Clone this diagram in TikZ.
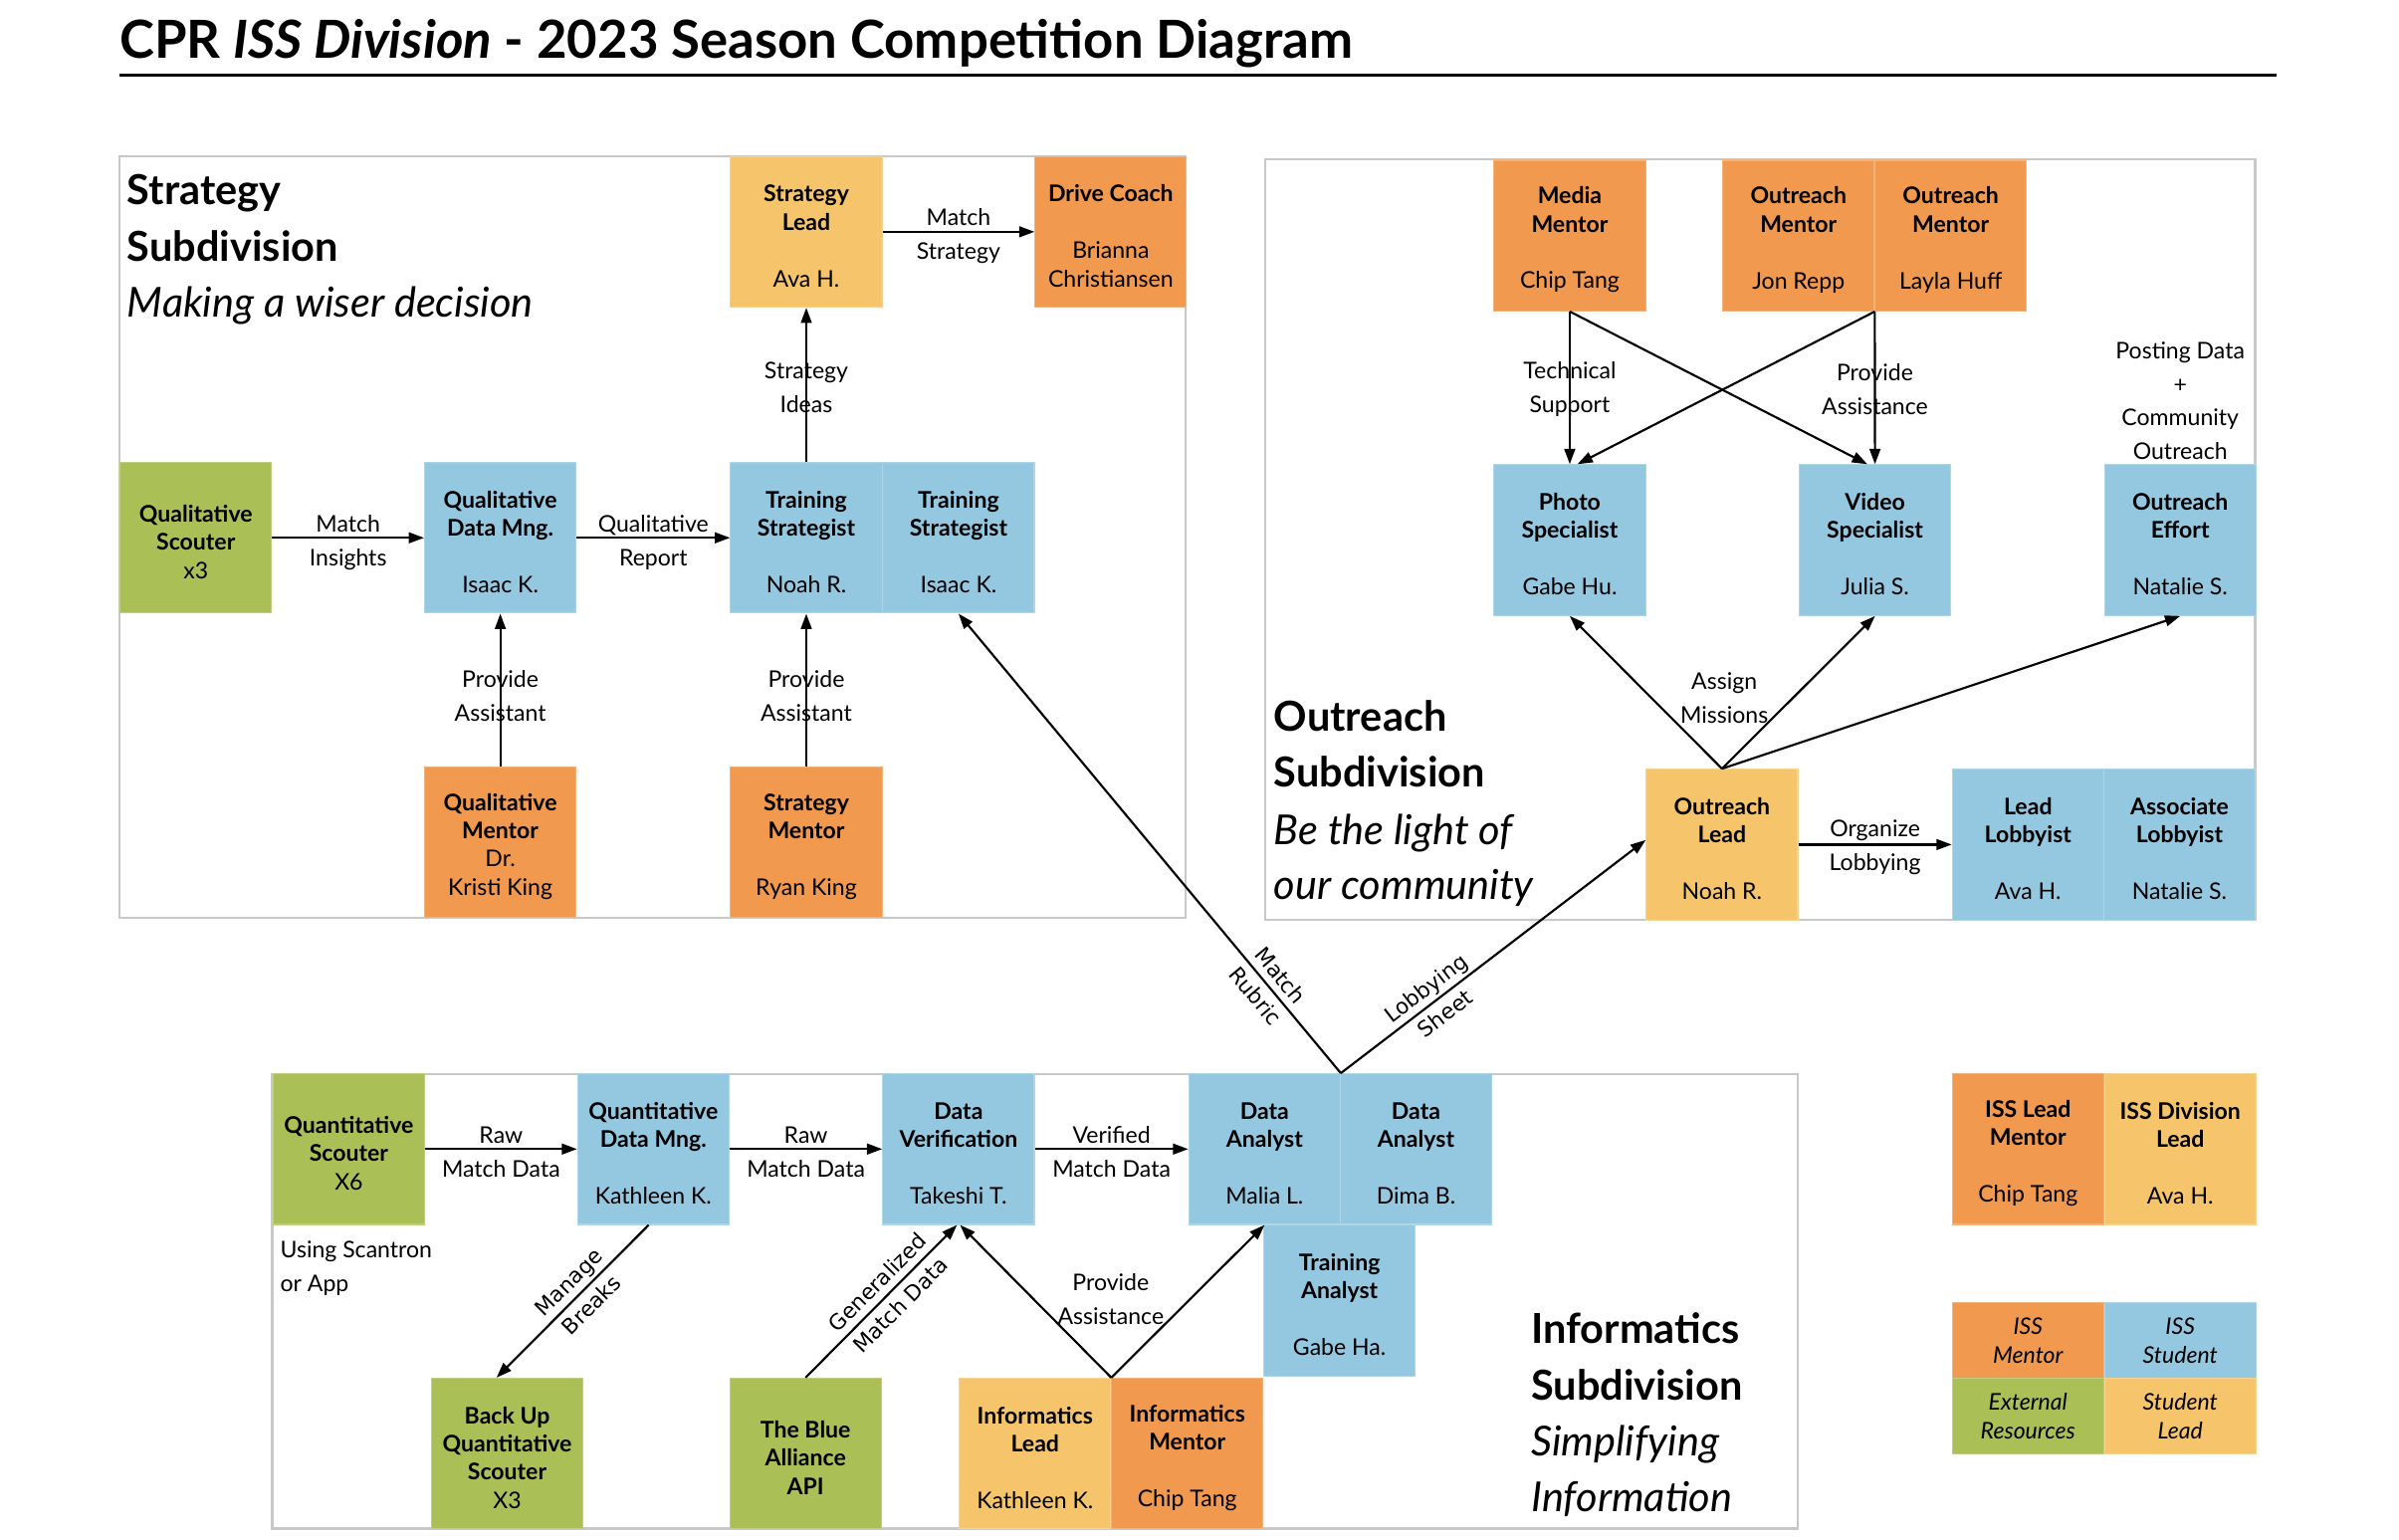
\documentclass[tikz,border=0pt]{standalone}
\usepackage{fontspec}
\setmainfont{Lato}
\newfontfamily\djv{DejaVu Sans}
\usetikzlibrary{arrows.meta}
\definecolor{cOr}{HTML}{F0994F}
\definecolor{cYe}{HTML}{F6C56B}
\definecolor{cBl}{HTML}{94C8E0}
\definecolor{cGr}{HTML}{AABF56}
\definecolor{cFr}{HTML}{C8C8C8}
\newcommand\tp{\rule{0pt}{16.5pt}}
\tikzset{
  box/.style={minimum width=99, minimum height=98.5, inner sep=0pt, align=center,
    font=\fontsize{15}{18.5}\selectfont, fill=#1, draw=#1!75!white, line width=0.7pt},
  sbox/.style={minimum width=99, minimum height=49.5, inner sep=0pt, align=center,
    font=\fontsize{15}{19}\selectfont\itshape, fill=#1, draw=#1!75!white, line width=0.7pt},
  frame/.style={draw=cFr, line width=1.6pt},
  arr/.style={line width=1.4pt, -{Triangle[length=10pt,width=7pt]}},
  lab/.style={font=\fontsize{15}{22}\selectfont, align=center, inner sep=0pt},
  hlab/.style={lab, yshift=-3pt},
  rlab/.style={font=\djv\fontsize{14}{21}\selectfont, align=center, sloped, inner sep=0pt},
  sect/.style={font=\fontsize{27}{37}\selectfont, anchor=base west, inner sep=0pt},
  plain/.style={font=\fontsize{15}{22}\selectfont, anchor=base west, inner sep=0pt},
}
\begin{document}
\begin{tikzpicture}[x=1pt,y=-1pt]
\useasboundingbox (0,0) rectangle (1568,1006);
\fill[white] (0,0) rectangle (1568,1006);

% title
\node[anchor=base west, inner sep=0pt] (title) at (78,38)
  {\resizebox{806pt}{!}{\bfseries CPR \textit{ISS Division} - 2023 Season Competition Diagram}};
\draw[line width=2pt] (78,49) -- (1488,49);

% section frames
\draw[frame] (78,102) rectangle (775,600);
\draw[frame] (827,104) rectangle (1474,601);
\draw[frame] (178,702) rectangle (1175,999);

% section titles
\node[sect] (st1) at (83,133.5) {\bfseries Strategy};
\node[sect] (st2) at (83,170.6) {\bfseries Subdivision};
\node[sect] (st3) at (83,207) {\itshape Making a wiser decision};
\node[sect] (ot1) at (832.5,477.7) {\bfseries Outreach};
\node[sect] (ot2) at (832.5,514) {\bfseries Subdivision};
\node[sect] (ot3) at (832.5,551.8) {\itshape Be the light of};
\node[sect] (ot4) at (832.5,587.7) {\itshape our community};
\node[sect] (it1) at (1000.7,877.7) {\bfseries Informatics};
\node[sect] (it2) at (1000.7,915) {\bfseries Subdivision};
\node[sect] (it3) at (1000.7,951.3) {\itshape Simplifying};
\node[sect] (it4) at (1000.7,987.7) {\itshape Information};

% ---------- Strategy ----------
\node[box=cYe] (SL) at (527,151.5) {\tp\textbf{Strategy}\\\textbf{Lead}\\[18.5pt]Ava H.};
\node[box=cOr] (DC) at (726,151.5) {\tp\textbf{Drive Coach}\\[18.5pt]Brianna\\Christiansen};
\node[box=cGr] (QS) at (128,351.5) {\tp\textbf{Qualitative}\\\textbf{Scouter}\\x3};
\node[box=cBl] (QDM) at (327,351.5) {\tp\textbf{Qualitative}\\\textbf{Data Mng.}\\[18.5pt]Isaac K.};
\node[box=cBl] (TS1) at (527,351.5) {\tp\textbf{Training}\\\textbf{Strategist}\\[18.5pt]Noah R.};
\node[box=cBl] (TS2) at (626.5,351.5) {\tp\textbf{Training}\\\textbf{Strategist}\\[18.5pt]Isaac K.};
\node[box=cOr] (QM) at (327,550.5) {\tp\textbf{Qualitative}\\\textbf{Mentor}\\Dr.\\Kristi King};
\node[box=cOr] (SM) at (527,550.5) {\tp\textbf{Strategy}\\\textbf{Mentor}\\[18.5pt]Ryan King};

\draw[arr] (QS) -- node[hlab] (l1) {Match\\Insights} (QDM);
\draw[arr] (QDM) -- node[hlab] (l2) {Qualitative\\Report} (TS1);
\draw[arr] (TS1) -- node[lab, yshift=-2pt] (l3) {Strategy\\Ideas} (SL);
\draw[arr] (SL) -- node[hlab] (l4) {Match\\Strategy} (DC);
\draw[arr] (QM) -- node[lab, yshift=-4pt] (l5) {Provide\\Assistant} (QDM);
\draw[arr] (SM) -- node[lab, yshift=-4pt] (l6) {Provide\\Assistant} (TS1);

% ---------- Outreach ----------
\node[box=cOr] (MM) at (1026,154) {\tp\textbf{Media}\\\textbf{Mentor}\\[18.5pt]Chip Tang};
\node[box=cOr] (OM1) at (1175.5,154) {\tp\textbf{Outreach}\\\textbf{Mentor}\\[18.5pt]Jon Repp};
\node[box=cOr] (OM2) at (1275,154) {\tp\textbf{Outreach}\\\textbf{Mentor}\\[18.5pt]Layla Huff};
\node[box=cBl] (PS) at (1026,353) {\tp\textbf{Photo}\\\textbf{Specialist}\\[18.5pt]Gabe Hu.};
\node[box=cBl] (VS) at (1225.5,353) {\tp\textbf{Video}\\\textbf{Specialist}\\[18.5pt]Julia S.};
\node[box=cBl] (OE) at (1425,353) {\tp\textbf{Outreach}\\\textbf{Effort}\\[18.5pt]Natalie S.};
\node[box=cYe] (OL) at (1125.5,552) {\tp\textbf{Outreach}\\\textbf{Lead}\\[18.5pt]Noah R.};
\node[box=cBl] (LL) at (1325.5,552) {\tp\textbf{Lead}\\\textbf{Lobbyist}\\[18.5pt]Ava H.};
\node[box=cBl] (AL) at (1424.5,552) {\tp\textbf{Associate}\\\textbf{Lobbyist}\\[18.5pt]Natalie S.};

\coordinate (OMJ) at (OM1.south east);
\draw[arr] (MM.south) -- node[lab, yshift=-1pt] (l7) {Technical\\Support} (PS.north);
\draw[arr] (MM.south) -- ([xshift=-5pt]VS.north);
\draw[arr] (OMJ) -- node[lab, yshift=-1pt] (l8) {Provide\\Assistance} (VS.north);
\draw[arr] (OMJ) -- ([xshift=5pt]PS.north);
\node[lab] (l9) at (1425,262) {Posting Data\\+\\Community\\Outreach};
\draw[arr] (OL.north) -- (PS.south);
\draw[arr] (OL.north) -- (VS.south);
\draw[arr] (OL.north) -- (OE.south);
\node[lab] (l10) at (1127,456) {Assign\\Missions};
\draw[arr] (OL) -- node[lab, yshift=-2pt] (l11) {Organize\\Lobbying} (LL);

% ---------- Informatics ----------
\node[box=cGr] (QtS) at (228,751) {\tp\textbf{Quantitative}\\\textbf{Scouter}\\X6};
\node[box=cBl] (QtDM) at (427,751) {\tp\textbf{Quantitative}\\\textbf{Data Mng.}\\[18.5pt]Kathleen K.};
\node[box=cBl] (DV) at (626.5,751) {\tp\textbf{Data}\\\textbf{Verification}\\[18.5pt]Takeshi T.};
\node[box=cBl] (DA1) at (826.5,751) {\tp\textbf{Data}\\\textbf{Analyst}\\[18.5pt]Malia L.};
\node[box=cBl] (DA2) at (925.5,751) {\tp\textbf{Data}\\\textbf{Analyst}\\[18.5pt]Dima B.};
\node[box=cBl] (TA) at (875.5,850) {\tp\textbf{Training}\\\textbf{Analyst}\\[18.5pt]Gabe Ha.};
\node[box=cGr] (BU) at (331.5,950) {\tp\textbf{Back Up}\\\textbf{Quantitative}\\\textbf{Scouter}\\X3};
\node[box=cGr] (TBA) at (526.5,950) {\tp\textbf{The Blue}\\\textbf{Alliance}\\\textbf{API}};
\node[box=cYe] (IL) at (676.5,950) {\tp\textbf{Informatics}\\\textbf{Lead}\\[18.5pt]Kathleen K.};
\node[box=cOr] (IM) at (776,950) {\tp\textbf{Informatics}\\\textbf{Mentor}\\[18.5pt]Chip Tang};

\node[plain] (us1) at (183,822) {Using Scantron};
\node[plain] (us2) at (183,844) {or App};

\draw[arr] (QtS) -- node[lab, yshift=-2pt] (l12) {Raw\\Match Data} (QtDM);
\draw[arr] (QtDM) -- node[lab, yshift=-2pt] (l13) {Raw\\Match Data} (DV);
\draw[arr] (DV) -- node[lab, yshift=-2pt] (l14) {Verified\\Match Data} (DA1);
\draw[arr] ([xshift=-3pt]QtDM.south) -- node[rlab,pos=0.45] (l15) {Manage\\Breaks} ([xshift=-7pt]BU.north);
\draw[arr] (TBA.north) -- node[rlab,pos=0.55] (l16) {Generalized\\Match Data} ([xshift=-1pt]DV.south);
\coordinate (IJ) at (IL.north east);
\draw[arr] (IJ) -- ([xshift=1pt]DV.south);
\draw[arr] (IJ) -- (DA1.south);
\node[lab] (l17) at (726,849) {Provide\\Assistance};

% cross-division connectors
\coordinate (J) at (DA1.north east);
\draw[arr] (J) -- node[rlab,pos=0.19] (l18) {Match\\Rubric} (TS2.south);
\draw[arr] (J) -- node[rlab,pos=0.31] (l19) {Lobbying\\Sheet} ([yshift=3pt]OL.west);

% ---------- Legend ----------
\node[box=cOr] (LG1) at (1325.5,751) {\tp\textbf{ISS Lead}\\\textbf{Mentor}\\[18.5pt]Chip Tang};
\node[box=cYe] (LG2) at (1425,751) {\tp\textbf{ISS Division}\\\textbf{Lead}\\[18.5pt]Ava H.};
\node[sbox=cOr] (LG3) at (1325.5,876) {ISS\\Mentor};
\node[sbox=cBl] (LG4) at (1425,876) {ISS\\Student};
\node[sbox=cGr] (LG5) at (1325.5,925.5) {External\\Resources};
\node[sbox=cYe] (LG6) at (1425,925.5) {Student\\Lead};
\end{tikzpicture}
\end{document}
